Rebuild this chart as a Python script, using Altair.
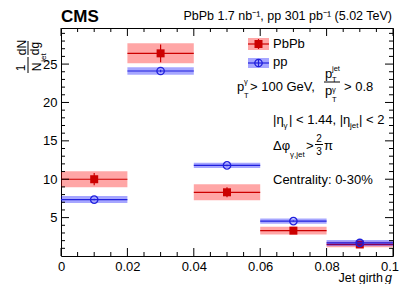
import altair as alt
import pandas as pd

# ---------------- data ----------------
bin_lo = [0.00, 0.02, 0.04, 0.06, 0.08]
bin_hi = [0.02, 0.04, 0.06, 0.08, 0.10]
bin_c = [0.01, 0.03, 0.05, 0.07, 0.09]

pbpb_val = [10.0, 26.4, 8.3, 3.3, 1.5]
pbpb_stat = [0.8, 1.15, 0.65, 0.2, 0.15]
pbpb_sys = [1.05, 1.3, 1.05, 0.5, 0.35]

pp_val = [7.35, 24.1, 11.8, 4.55, 1.7]
pp_stat = [0.1, 0.15, 0.1, 0.06, 0.04]
pp_sys = [0.45, 0.5, 0.35, 0.35, 0.4]

x_major = [0, 0.02, 0.04, 0.06, 0.08, 0.1]
x_minor = [0.005, 0.01, 0.015, 0.025, 0.03, 0.035, 0.045, 0.05, 0.055,
           0.065, 0.07, 0.075, 0.085, 0.09, 0.095]
y_major = [5, 10, 15, 20, 25]
y_minor = [1, 2, 3, 4, 6, 7, 8, 9, 11, 12, 13, 14, 16, 17, 18, 19,
           21, 22, 23, 24, 26, 27, 28, 29]

# ---------------- layout ----------------
FONT = "Liberation Sans"
W, H = 332, 228
X0, Y0 = 61, 28   # absolute page position of plot origin

RED = "#cc0000"
RED_BOX = "#ff0000"
BLUE = "#2020dd"
BLUE_BOX = "#0000ff"


def mkdf(val, stat, sys):
    return pd.DataFrame({
        "lo": bin_lo, "hi": bin_hi, "c": bin_c, "val": val,
        "slo": [v - s for v, s in zip(val, stat)],
        "shi": [v + s for v, s in zip(val, stat)],
        "ylo": [v - s for v, s in zip(val, sys)],
        "yhi": [v + s for v, s in zip(val, sys)],
    })


df_pb = mkdf(pbpb_val, pbpb_stat, pbpb_sys)
df_pp = mkdf(pp_val, pp_stat, pp_sys)

xscale = alt.Scale(domain=[0, 0.1], nice=False, zero=False)
yscale = alt.Scale(domain=[0, 29.7], nice=False, zero=False)
xaxis = alt.Axis(values=x_major, format="~g", ticks=False, domain=False, grid=False,
                 title=None, labelFont=FONT, labelFontSize=13, labelColor="black",
                 labelPadding=4, labelFlush=False, labelOverlap=False,
                 labelAlign=alt.condition("datum.value >= 0.099", alt.value("right"), alt.value("center")),
                 labelOffset=alt.condition("datum.value >= 0.099", alt.value(5.5), alt.value(0)))
yaxis = alt.Axis(values=y_major, format="~g", ticks=False, domain=False, grid=False,
                 title=None, labelFont=FONT, labelFontSize=13, labelColor="black",
                 labelPadding=4, labelFlush=False, labelOverlap=False)


def X(f):
    return alt.X(f, type="quantitative", scale=xscale, axis=xaxis)


def Y(f):
    return alt.Y(f, type="quantitative", scale=yscale, axis=yaxis)


def series(df, color, boxcolor, marker):
    base = alt.Chart(df)
    box = base.mark_rect(fill=boxcolor, fillOpacity=0.35, strokeWidth=0).encode(
        x=X("lo"), x2="hi", y=Y("ylo"), y2="yhi")
    hl = base.mark_rule(color=color, strokeWidth=1.2).encode(x=X("lo"), x2="hi", y=Y("val"))
    vl = base.mark_rule(color=color, strokeWidth=1.2).encode(x=X("c"), y=Y("slo"), y2="shi")
    if marker == "square":
        pt = base.mark_point(shape="square", filled=True, color=color, size=64, opacity=1).encode(
            x=X("c"), y=Y("val"))
    else:
        pt = base.mark_point(shape="circle", filled=False, color=color, size=55,
                             strokeWidth=1.3, opacity=1).encode(x=X("c"), y=Y("val"))
    return [box, hl, vl, pt]


one = alt.Data(values=[{"k": 0}])


def T(s, x, y, size=13, align="left", baseline="alphabetic", angle=0,
      weight="normal", style="normal"):
    return alt.Chart(one).mark_text(
        text=s, align=align, baseline=baseline, angle=angle, fontSize=size,
        font=FONT, fontWeight=weight, fontStyle=style, color="black"
    ).encode(x=alt.value(x - X0), y=alt.value(y - Y0))


def R(x1, y1, x2, y2, color="black", w=1):
    return alt.Chart(one).mark_rule(color=color, strokeWidth=w).encode(
        x=alt.value(x1 - X0), x2=alt.value(x2 - X0), y=alt.value(y1 - Y0), y2=alt.value(y2 - Y0))


def BOX(x1, y1, x2, y2, color):
    return alt.Chart(one).mark_rect(fill=color, fillOpacity=0.35, strokeWidth=0).encode(
        x=alt.value(x1 - X0), x2=alt.value(x2 - X0), y=alt.value(y1 - Y0), y2=alt.value(y2 - Y0))


def PT(x, y, shape, color, filled, size):
    return alt.Chart(one).mark_point(shape=shape, filled=filled, color=color, size=size,
                                     strokeWidth=1.3, opacity=1).encode(
        x=alt.value(x - X0), y=alt.value(y - Y0))


# ticks (inside, all four sides)
tick_layers = []
for L, vals in ((8, x_major), (4, x_minor)):
    dfx = pd.DataFrame({"x": vals})
    tick_layers.append(alt.Chart(dfx).mark_rule(color="black").encode(
        x=X("x"), y=alt.value(H), y2=alt.value(H - L)))
    tick_layers.append(alt.Chart(dfx).mark_rule(color="black").encode(
        x=X("x"), y=alt.value(0), y2=alt.value(L)))
for L, vals in ((8, y_major), (4, y_minor)):
    dfy = pd.DataFrame({"y": vals})
    tick_layers.append(alt.Chart(dfy).mark_rule(color="black").encode(
        y=Y("y"), x=alt.value(0), x2=alt.value(L)))
    tick_layers.append(alt.Chart(dfy).mark_rule(color="black").encode(
        y=Y("y"), x=alt.value(W), x2=alt.value(W - L)))

layers = []
layers += series(df_pb, RED, RED_BOX, "square")
layers += series(df_pp, BLUE, BLUE_BOX, "circle")
layers += tick_layers

# legend
layers += [
    BOX(248, 38, 269, 50, RED_BOX), R(248, 44, 269, 44, RED, 1.2), R(258.5, 39, 258.5, 49, RED, 1.2),
    PT(258.5, 44, "square", RED, True, 64),
    BOX(248, 58, 269, 68, BLUE_BOX), R(248, 63, 269, 63, BLUE, 1.2), R(258.5, 59, 258.5, 67, BLUE, 1.2),
    PT(258.5, 63, "circle", BLUE, False, 55),
    T("PbPb", 273, 44, baseline="middle"),
    T("pp", 273, 62, baseline="middle"),
]

# header
layers += [
    T("CMS", 61, 22, size=17, weight="bold"),
    T("PbPb 1.7 nb⁻¹, pp 301 pb⁻¹ (5.02 TeV)", 392, 20, size=12.5, align="right"),
]

# axis titles
layers += [
    T("Jet girth", 383, 281.5, size=12.5, align="right"),
    T("g", 385, 281.5, size=12.5, style="italic"),
    # y title rotated: 1/N_jet dN/dg
    T("1", 20.5, 68, size=12, angle=270, align="center", baseline="middle"),
    T("N", 37, 67, size=12, angle=270, align="center", baseline="middle"),
    T("jet", 43.5, 57.5, size=8, angle=270, align="center", baseline="middle"),
    R(28, 57, 28, 73),
    T("dN", 21.5, 47.5, size=12, angle=270, align="center", baseline="middle"),
    T("dg", 35, 48.5, size=12, angle=270, align="center", baseline="middle"),
    R(28, 41, 28, 55),
]

# annotations
layers += [
    # p_T^gamma > 100 GeV, p_T^jet / p_T^gamma > 0.8
    T("p", 237, 91),
    T("γ", 244, 84, size=7.5),
    T("T", 244, 98, size=7.5),
    T("> 100 GeV,", 250, 91),
    T("p", 325, 78),
    T("jet", 332, 71, size=7.5),
    T("T", 332, 81.5, size=7.5),
    R(324, 82, 340, 82),
    T("p", 325, 95),
    T("γ", 332, 92, size=7.5),
    T("T", 332, 102, size=7.5),
    T("> 0.8", 344, 91),
    # |eta_gamma| < 1.44, |eta_jet| < 2
    T("|η", 273, 124),
    T("γ", 283.5, 128, size=8),
    T("| < 1.44, |η", 289, 124),
    T("jet", 350, 128, size=8),
    T("| < 2", 359, 124),
    # delta phi
    T("Δφ", 273, 150),
    T("γ,jet", 290, 157, size=8),
    T(">", 306, 150),
    T("2", 319, 142, size=10, align="center"),
    R(315, 144.5, 323, 144.5),
    T("3", 319, 155, size=10, align="center"),
    T("π", 324, 150),
    # centrality
    T("Centrality: 0-30%", 273, 184),
]

chart = alt.layer(*layers).properties(
    width=W, height=H,
    padding={"left": 53, "top": 20, "right": 6, "bottom": 28},
    autosize=alt.AutoSizeParams(type="none"),
).configure_view(stroke="black", strokeWidth=1)

chart.save("out.html", embed_options={"renderer": "svg", "actions": False})
